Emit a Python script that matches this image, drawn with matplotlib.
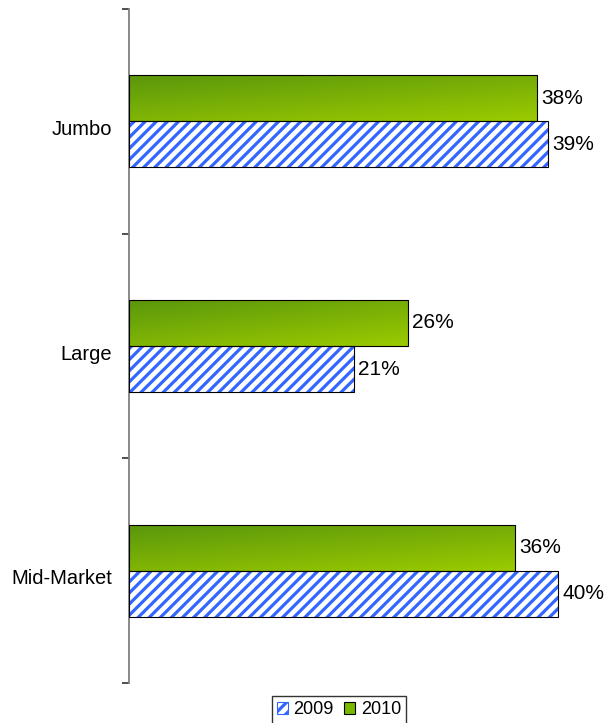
import numpy as np
import matplotlib
matplotlib.use("Agg")
import matplotlib.pyplot as plt
from matplotlib.patches import Patch
from matplotlib.colors import LinearSegmentedColormap

plt.rcParams['font.family'] = ['Liberation Sans', 'DejaVu Sans']
plt.rcParams['hatch.linewidth'] = 2.3

# segments, bottom to top
segments = ["Mid-Market", "Large", "Jumbo"]
share_2009 = [40, 21, 39]
share_2010 = [36, 26, 38]
years = ["2009", "2010"]

blue = "#3366FF"
green_cmap = LinearSegmentedColormap.from_list("grn", ["#5A960C", "#9BCB00"])

fig = plt.figure(figsize=(6.12, 7.23), dpi=100)
ax = fig.add_axes([128.5 / 612, 40 / 723, (612 - 128.5) / 612, 674 / 723])

y = np.arange(len(segments))
h = 0.205

# 2009: hatched blue stripes
ax.barh(y - h / 2, share_2009, height=h, color="white", edgecolor=blue,
        hatch="///", linewidth=0, zorder=2)
ax.barh(y - h / 2, share_2009, height=h, fill=False, edgecolor="black",
        linewidth=0.8, zorder=3)

# 2010: green gradient, dark top-left to light bottom-right
bars10 = ax.barh(y + h / 2, share_2010, height=h, color="none",
                 edgecolor="black", linewidth=0.8, zorder=3)
gy, gx = np.mgrid[0:1:50j, 0:1:200j]
grad = 0.6 * gy + 0.4 * gx
for b in bars10:
    x0, y0 = b.get_x(), b.get_y()
    w, hh = b.get_width(), b.get_height()
    im = ax.imshow(grad, cmap=green_cmap, extent=(x0, x0 + w, y0, y0 + hh),
                   origin="upper", aspect="auto", zorder=2, interpolation="bilinear")
    im.set_clip_path(b)

for yi, v in zip(y, share_2009):
    ax.text(v + 0.4, yi - h / 2, f"{v}%", va="center", ha="left", fontsize=15)
for yi, v in zip(y, share_2010):
    ax.text(v + 0.4, yi + h / 2, f"{v}%", va="center", ha="left", fontsize=15)

ax.set_xlim(0, 45)
ax.set_ylim(-0.5, 2.5)

for s in ["top", "right", "bottom"]:
    ax.spines[s].set_visible(False)
ax.spines["left"].set_color("#808080")
ax.spines["left"].set_linewidth(1.3)
ax.set_xticks([])

# tick marks on the category boundaries, names sit a little below centre
ax.set_yticks([-0.5, 0.5, 1.5, 2.5])
ax.set_yticklabels([])
ax.tick_params(axis="y", which="major", length=5, color="#404040", width=1.3)
ax.set_yticks(y - 0.027, minor=True)
ax.set_yticklabels(segments, minor=True, fontsize=14.5)
ax.tick_params(axis="y", which="minor", length=0, pad=12)

handles = [Patch(facecolor="white", edgecolor=blue, hatch="///", linewidth=0.8),
           Patch(facecolor="#7AB800", edgecolor="black", linewidth=0.8)]
fig.legend(handles, years, loc="upper center", bbox_to_anchor=(339 / 612, 1 - 696 / 723),
           ncol=2, fontsize=13, frameon=True, fancybox=False, edgecolor="black",
           handlelength=0.6, handleheight=0.6, handletextpad=0.3, columnspacing=0.6,
           borderpad=0.3, borderaxespad=0)

fig.savefig("out.png", dpi=100)
